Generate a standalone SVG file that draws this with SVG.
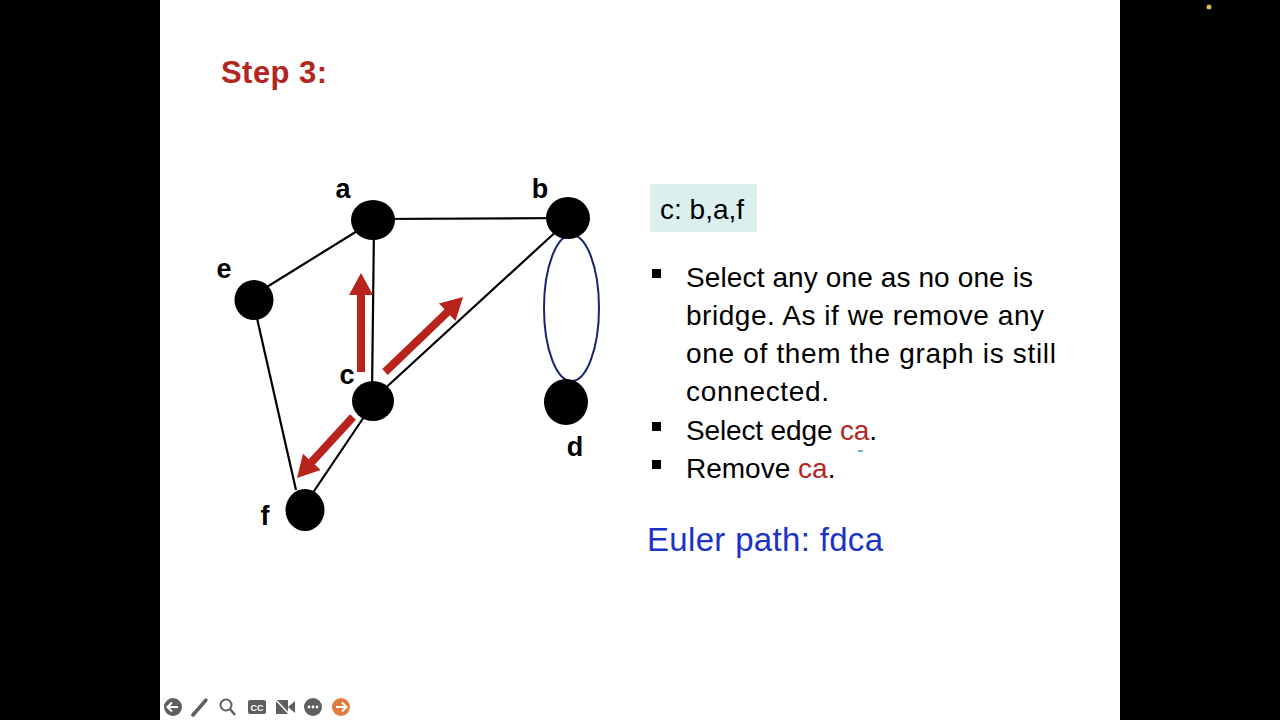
<svg xmlns="http://www.w3.org/2000/svg" width="1280" height="720" viewBox="0 0 1280 720">
<defs>
<style>
.lbl{font-family:"Liberation Sans",Arial,sans-serif;font-weight:bold;font-size:27px;fill:#000;text-anchor:middle}
.node{fill:#000}
.edge{stroke:#000;stroke-width:2.2;fill:none}
.txt{font-family:"Liberation Sans",Arial,sans-serif;font-size:28px;fill:#000}
.red{fill:#b3261e}
.arr{stroke:#b8241c;stroke-width:8;fill:none}
.tb{fill:#5f5f5f}
</style>
<marker id="ah" viewBox="0 0 22 24" refX="1" refY="12" markerWidth="22" markerHeight="24" markerUnits="userSpaceOnUse" orient="auto">
<path d="M0,0 L22,12 L0,24 z" fill="#b8241c"/>
</marker>
</defs>
<rect x="0" y="0" width="1280" height="720" fill="#000"/>
<rect x="160" y="0" width="960" height="720" fill="#fff"/>
<circle cx="1209" cy="7" r="2.5" fill="#e2b64a"/>

<text x="221" y="83" font-family="Liberation Sans,Arial,sans-serif" font-weight="bold" font-size="31" fill="#b3261e" textLength="106" lengthAdjust="spacing">Step 3:</text>

<g id="connectors">
<line class="edge" x1="373" y1="219" x2="568" y2="218"/>
<line class="edge" x1="362" y1="228" x2="262" y2="290"/>
<line class="edge" x1="374" y1="225" x2="372" y2="395"/>
<line class="edge" x1="560" y1="228" x2="380" y2="393"/>
<line class="edge" x1="254" y1="305" x2="296" y2="490"/>
<line class="edge" x1="370" y1="408" x2="308" y2="500"/>
<ellipse cx="571.5" cy="308" rx="27.5" ry="73" fill="none" stroke="#1a2470" stroke-width="2"/>
<line class="arr" x1="361" y1="372" x2="361" y2="294" marker-end="url(#ah)"/>
<line class="arr" x1="385" y1="372" x2="447.9" y2="311.6" marker-end="url(#ah)"/>
<line class="arr" x1="353" y1="417" x2="311.2" y2="462.5" marker-end="url(#ah)"/>
</g>

<g id="node-a"><ellipse class="node" cx="373" cy="220" rx="22" ry="20"/><text class="lbl" x="343" y="198">a</text></g>
<g id="node-b"><ellipse class="node" cx="568" cy="218" rx="22" ry="21"/><text class="lbl" x="540" y="198">b</text></g>
<g id="node-e"><ellipse class="node" cx="254" cy="300" rx="19.5" ry="20"/><text class="lbl" x="224" y="278">e</text></g>
<g id="node-c"><ellipse class="node" cx="373" cy="401" rx="21" ry="20"/><text class="lbl" x="347" y="384">c</text></g>
<g id="node-d"><ellipse class="node" cx="566" cy="402" rx="22" ry="23"/><text class="lbl" x="575" y="456">d</text></g>
<g id="node-f"><ellipse class="node" cx="305" cy="510" rx="19.5" ry="21"/><text class="lbl" x="265" y="525">f</text></g>

<g id="info-box">
<rect x="650" y="184" width="107" height="48" fill="#dcefef"/>
<text class="txt" x="660" y="219" font-size="27">c: b,a,f</text>
</g>

<g id="bullets">
<rect x="652" y="269" width="9" height="9" fill="#000"/>
<rect x="652" y="422" width="9" height="9" fill="#000"/>
<rect x="652" y="460" width="9" height="9" fill="#000"/>
<text class="txt" x="686" y="287" textLength="347" lengthAdjust="spacing">Select any one as no one is</text>
<text class="txt" x="686" y="325" textLength="358" lengthAdjust="spacing">bridge. As if we remove any</text>
<text class="txt" x="686" y="363" textLength="370" lengthAdjust="spacing">one of them the graph is still</text>
<text class="txt" x="686" y="401" textLength="143" lengthAdjust="spacing">connected.</text>
<text class="txt" x="686" y="440" textLength="191" lengthAdjust="spacing">Select edge <tspan class="red">ca</tspan>.</text>
<text class="txt" x="686" y="478">Remove <tspan class="red">ca</tspan>.</text>
<line x1="858" y1="451" x2="863" y2="451" stroke="#4a8fc4" stroke-width="1.5"/>
</g>

<text x="647" y="551" font-family="Liberation Sans,Arial,sans-serif" font-size="33" fill="#1b33c6" textLength="236" lengthAdjust="spacing">Euler path: fdca</text>

<g id="toolbar">
<circle class="tb" cx="173" cy="707" r="9"/>
<path d="M178,707 H168 M172,702.5 L167.5,707 L172,711.5" stroke="#fff" stroke-width="2" fill="none"/>
<path d="M193,715 L206,700" stroke="#5f5f5f" stroke-width="3.5" stroke-linecap="round"/>
<path d="M192,716 L194,712" stroke="#5f5f5f" stroke-width="2"/>
<circle cx="226" cy="705" r="5.5" fill="none" stroke="#5f5f5f" stroke-width="2"/>
<line x1="230" y1="709" x2="235" y2="715" stroke="#5f5f5f" stroke-width="2.5"/>
<rect class="tb" x="248" y="700" width="18" height="14" rx="2"/>
<text x="257" y="711" font-family="Liberation Sans,Arial,sans-serif" font-weight="bold" font-size="9" fill="#fff" text-anchor="middle">CC</text>
<rect class="tb" x="276" y="700" width="12" height="14"/>
<path d="M288,707 L295,701 V713 z" fill="#5f5f5f"/>
<line x1="275" y1="699" x2="291" y2="716" stroke="#fff" stroke-width="1.5"/>
<circle class="tb" cx="313" cy="707" r="9"/>
<circle cx="309" cy="707" r="1.4" fill="#fff"/><circle cx="313" cy="707" r="1.4" fill="#fff"/><circle cx="317" cy="707" r="1.4" fill="#fff"/>
<circle cx="341" cy="707" r="9" fill="#e27a3c"/>
<path d="M336,707 H346 M342,702.5 L346.5,707 L342,711.5" stroke="#fff" stroke-width="2" fill="none"/>
</g>
</svg>
